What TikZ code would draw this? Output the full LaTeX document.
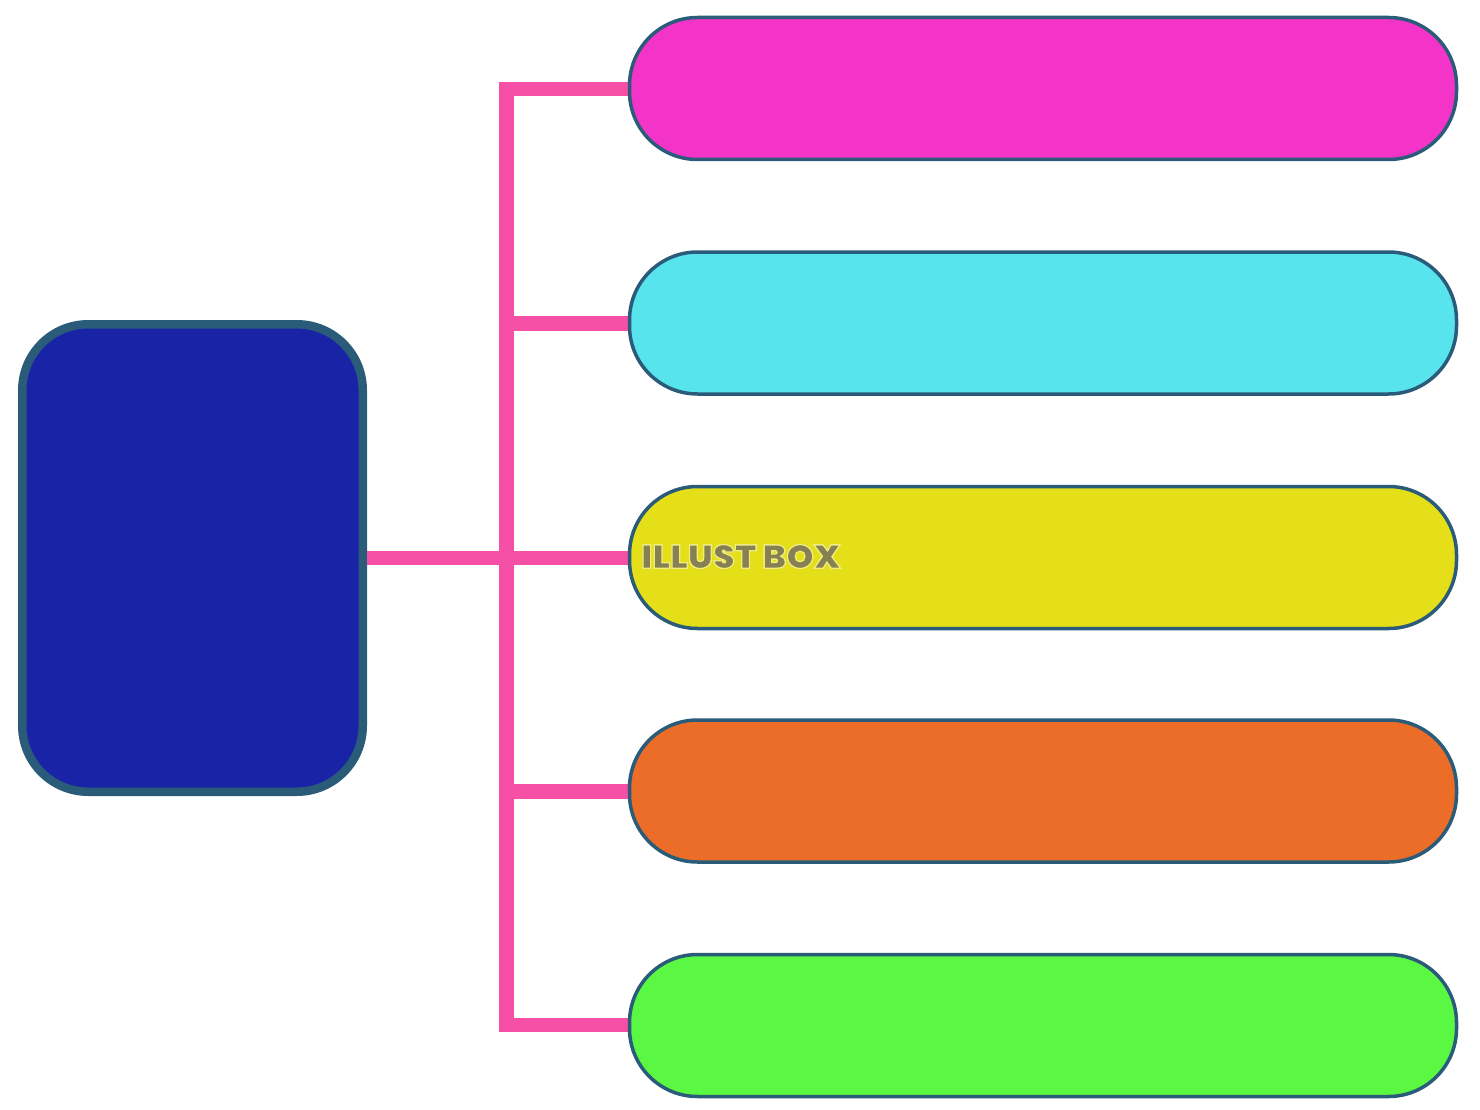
\documentclass[tikz,border=0pt]{standalone}
\usepackage{fontspec}
\setmainfont{Liberation Sans}
\newfontfamily\markfont[FakeBold=4,FakeStretch=1.06]{Poppins Black}
\usetikzlibrary{positioning}
\definecolor{edgeblue}{RGB}{42, 92, 122}
\definecolor{linkpink}{RGB}{245, 80, 165}
\definecolor{rootblue}{RGB}{24, 36, 165}
\definecolor{barmagenta}{RGB}{244, 51, 200}
\definecolor{barcyan}{RGB}{88, 228, 237}
\definecolor{baryellow}{RGB}{228, 223, 24}
\definecolor{barorange}{RGB}{236, 109, 39}
\definecolor{bargreen}{RGB}{90, 247, 67}
\definecolor{markgrey}{RGB}{134, 128, 82}

\begin{document}
\begin{tikzpicture}[
  x=1pt, y=-1pt,
  rootbox/.style={rectangle, rounded corners=66pt, draw=edgeblue, fill=rootblue, line width=8.5pt,
              minimum width=340.5pt, minimum height=467.5pt, inner sep=0pt},
  bar/.style={rectangle, rounded corners=68pt, draw=edgeblue, line width=3.5pt,
              minimum width=827pt, minimum height=142pt, inner sep=0pt},
  link/.style={linkpink, line width=14.5pt}
]
  \useasboundingbox (0,0) rectangle (1480,1110);
  \node[rootbox] (root) at (192.5,558) {};
  \coordinate (trunk) at (506.5,558);
  % links go under the bars
  \coordinate (top) at (506.5,89);
  \coordinate (bottom) at (506.5,1025);
  \coordinate (barAw) at (631,89);
  \coordinate (barBw) at (631,323.5);
  \coordinate (barCw) at (631,558);
  \coordinate (barDw) at (631,791.5);
  \coordinate (barEw) at (631,1025);
  \draw[link, line join=miter] (barAw) -- (top) -- (bottom) -- (barEw);
  \draw[link] (barBw) -- (trunk |- barBw);
  \draw[link] (barDw) -- (trunk |- barDw);
  \draw[link] (root.east) -- (barCw);
  \node[bar, fill=barmagenta] (barA) at (1043,88.5) {};
  \node[bar, fill=barcyan] (barB) at (1043,323) {};
  \node[bar, fill=baryellow] (barC) at (1043,557.5) {};
  \node[bar, fill=barorange] (barD) at (1043,791) {};
  \node[bar, fill=bargreen] (barE) at (1043,1025.5) {};
  \node[anchor=west, inner sep=0pt, font=\markfont\fontsize{33}{33}\selectfont, text=markgrey] (mark) at (641,556.5) {\special{pdf:code 0.94 0.925 0.51 RG}ILLUST BOX};
\end{tikzpicture}
\end{document}
